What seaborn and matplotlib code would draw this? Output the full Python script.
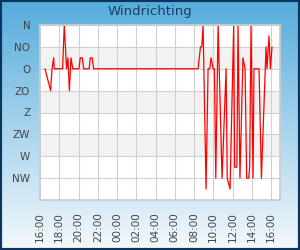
import numpy as np
import pandas as pd
import matplotlib
matplotlib.use("Agg")
import matplotlib.pyplot as plt
import matplotlib.dates as mdates
from matplotlib.colors import LinearSegmentedColormap
from matplotlib.patches import Rectangle
import seaborn as sns

# hours after the 16:00 start, and wind direction in degrees (0 = N)
hours = [0.52, 1.10, 1.25, 1.42, 1.48, 2.35, 2.52, 2.76, 2.90, 3.05,
         3.22, 3.40, 4.05, 4.18, 4.39, 4.53, 5.11, 5.22, 5.42, 5.57,
         16.42, 16.67, 16.80, 16.94, 17.25, 17.46, 17.63, 17.77, 17.98, 18.12,
         18.26, 18.50, 18.91, 19.33, 19.45, 19.74, 20.12, 20.22, 20.45, 20.57,
         20.77, 21.08, 21.30, 21.47, 21.68, 21.78, 21.92, 22.13, 22.23, 22.75,
         23.00, 23.48, 23.58, 23.79, 23.93, 24.10]
degrees = [90, 135, 90, 67.5, 90, 90, 0, 90, 67.5, 135,
           67.5, 90, 90, 67.5, 67.5, 90, 90, 67.5, 67.5, 90,
           90, 45, 45, 0, 337.5, 90, 90, 67.5, 90, 90,
           315, 0, 315, 90, 315, 337.5, 0, 292.5, 292.5, 0,
           315, 67.5, 90, 315, 315, 292.5, 0, 315, 90, 90,
           315, 45, 90, 22.5, 90, 45]

direction_ticks = [0, 45, 90, 135, 180, 225, 270, 315]
direction_labels = ["N", "NO", "O", "ZO", "Z", "ZW", "W", "NW"]

start = pd.Timestamp("2024-05-01 16:00")
df = pd.DataFrame({
    "time": start + pd.to_timedelta(hours, unit="h"),
    "richting": degrees,
})

sns.set_theme(style="white")
fig = plt.figure(figsize=(3, 2.5), dpi=100)

# blue to white background with dark border
bg = fig.add_axes([0, 0, 1, 1], zorder=0)
cmap = LinearSegmentedColormap.from_list("bg", ["#56acdc", "#f4f9fc"])
bg.imshow(np.linspace(0, 1, 256).reshape(-1, 1), aspect="auto", cmap=cmap,
          extent=[0, 1, 0, 1])
bg.add_patch(Rectangle((0, 0), 1, 1, transform=bg.transAxes, fill=False,
                       edgecolor="#0b355f", linewidth=3))
bg.axis("off")

ax = fig.add_axes([40 / 300, 50 / 250, 240 / 300, 175 / 250], zorder=1)
ax.set_facecolor("white")
for lo in (45, 135, 225):
    ax.axhspan(lo, lo + 45, color="#f2f2f2", zorder=0, linewidth=0)

sns.lineplot(data=df, x="time", y="richting", ax=ax, color="red", linewidth=0.9)

ax.set_ylim(360, 0)
ax.set_yticks(direction_ticks, direction_labels)
ax.set_xlim(start, start + pd.Timedelta(hours=24.93))
ax.xaxis.set_major_locator(mdates.HourLocator(byhour=range(0, 24, 2)))
ax.xaxis.set_major_formatter(mdates.DateFormatter("%H:%M"))
plt.setp(ax.get_xticklabels(), rotation=90)

ax.grid(True, color="#d0d0d0", linewidth=0.8)
ax.tick_params(length=0, labelsize=7.5, colors="#444444")
ax.tick_params(axis="y", pad=7)
ax.tick_params(axis="x", pad=9)
ax.set_xlabel("")
ax.set_ylabel("")
for s in ax.spines.values():
    s.set_color("#cccccc")

fig.text(0.5, 1 - 11 / 250, "Windrichting", ha="center", va="center",
         fontsize=9.5, color="#1c3d63")

fig.savefig("out.png", dpi=100)
